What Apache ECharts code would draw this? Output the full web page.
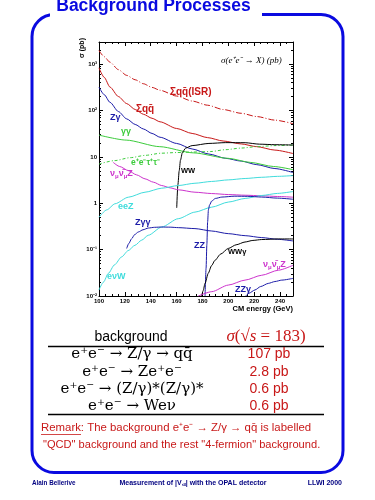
<!DOCTYPE html>
<html><head><meta charset="utf-8">
<script src="https://cdn.jsdelivr.net/npm/echarts@6/dist/echarts.min.js"></script>
<style>html,body{margin:0;padding:0;background:#fff;}#c{width:375px;height:500px;}</style>
</head><body><div id="c"></div>
<script>
// ---- data (CM energy in GeV, cross-section in pb) ----
const energyTicks = [100,120,140,160,180,200,220,240];
const sigmaTicks = [0.01,0.1,1,10,100,1000];
const sigmaTickLabels = ['10⁻²','10⁻¹','1','10','10²','10³'];
const sigmaMinorTicks = [0.02,0.03,0.04,0.05,0.06,0.07,0.08,0.09,0.2,0.3,0.4,0.5,0.6,0.7,0.8,0.9,2,3,4,5,6,7,8,9,20,30,40,50,60,70,80,90,200,300,400,500,600,700,800,900,2000,3000];
const energyMinorTicks = [105,110,115,125,130,135,145,150,155,165,170,175,185,190,195,205,210,215,225,230,235,245,250];

const qqISR = [[100,1970],[104,1450],[108.5,1100],[115,760],[121.4,572],[128,460],[134.3,378],[141,315],[147.2,273],[160,205],[172,160],[184,130],[196,105],[210,87],[222,74],[236,62],[250,52]];
const qqBar = [[100,830],[104,520],[108.5,320],[115,200],[121.4,141],[128,105],[134.3,83],[141,68],[147.2,57],[160,41],[172,32],[184,26],[196,22],[210,19],[222,16.6],[236,14],[250,11.8]];
const zGamma = [[100,320],[104,220],[108.5,150],[115,95],[121.4,66],[128,50],[134.3,40],[141,32],[147.2,26.5],[160,19.5],[172,14.8],[185,11.5],[198,9.3],[210,8.1],[222,6.8],[236,5.6],[250,4.6]];
const gammaGamma = [[100,29.5],[121,23],[147,16.6],[173,12.2],[200,9.3],[217,7.6],[235,6.2],[250,5.3]];
const eeTauTau = [[100,7],[112,8.3],[124,9.6],[136,10.8],[148,12],[160,12.4],[172,12.7],[186,13],[198,14.3],[210,15.5],[222,16.6],[236,17.5],[250,18]];
const ww = [[160.1,0.8],[161,2.5],[162,5],[163,8.5],[164.5,12.5],[167,15.5],[172,17.5],[185,19.5],[198,20.3],[213,20.2],[224,18.8],[236,18.3],[250,18]];
const nnZ = [[111,7.6],[116,6.2],[122.7,5.06],[129,4.1],[135.6,3.36],[142,2.85],[148.5,2.41],[155,2.15],[161.3,1.95],[174.2,1.73],[187,1.62],[200,1.54],[213,1.49],[225.8,1.45],[238,1.4],[250,1.35]];
const eeZ = [[100,0.5],[106,0.72],[112.4,0.975],[122.7,1.35],[135.6,1.73],[148.5,2.11],[161.3,2.41],[174.2,2.7],[187,2.95],[200,3.19],[213,3.42],[225.8,3.63],[238,3.8],[250,3.95]];
const eNuW = [[100,0.0135],[103.5,0.02],[107.2,0.0307],[112,0.047],[117.5,0.0697],[122.5,0.095],[127.8,0.124],[133,0.16],[138.1,0.204],[148.5,0.307],[161.3,0.465],[174.2,0.644],[187.2,0.824],[200,1.06],[213,1.27],[225.8,1.47],[238,1.63],[250,1.79]];
const zGammaGamma = [[121.4,0.106],[123,0.135],[125.3,0.173],[127.5,0.21],[130.4,0.24],[134,0.268],[138.1,0.292],[143,0.303],[148.5,0.307],[155,0.305],[161.3,0.298],[174.2,0.284],[187.2,0.252],[200,0.221],[213,0.2],[225.8,0.182],[238,0.167],[250,0.154]];
const zz = [[182,0.01],[182.8,0.04],[183.4,0.13],[184,0.4],[184.6,0.72],[185.5,0.92],[187.2,1.12],[190,1.27],[195,1.36],[205,1.42],[215,1.41],[225.8,1.36],[238,1.29],[250,1.22]];
const wwGamma = [[179.4,0.01],[180.5,0.013],[182,0.0187],[184.5,0.031],[187,0.045],[189.7,0.059],[194,0.08],[200,0.106],[206,0.127],[212.9,0.146],[219,0.158],[225.8,0.165],[238.7,0.17],[250,0.17]];
const nnZLow = [[176.8,0.01],[187.2,0.0124],[200,0.0172],[212.9,0.022],[225.8,0.028],[238.7,0.036],[250,0.046]];
const zzGamma = [[213.5,0.01],[216,0.0115],[220.6,0.0135],[225,0.016],[230.9,0.0187],[236,0.0205],[241.3,0.022],[250,0.024]];

const tableProcesses = ['e⁺e⁻ → Z/γ → qq̄','e⁺e⁻ → Ze⁺e⁻','e⁺e⁻ → (Z/γ)*(Z/γ)*','e⁺e⁻ → Weν'];
const tableValues = ['107 pb','2.8 pb','0.6 pb','0.6 pb'];

// ---- styles ----
const RED='#c81818', BLUE='#1c1ca8', GREEN='#3ccc3c', CYAN='#40dcdc', MAG='#cc33cc', BLK='#000';
const FRAME='#0a0ae0';
const tickFont = {fontSize:6, fontWeight:'bold', color:'#000', fontFamily:'Liberation Sans'};

function line(data, color, type){
  return {type:'line', data, symbol:'none', showSymbol:false, smooth:0.25, smoothMonotone:'x',
    lineStyle:{color, width:1, type: type||'solid'}, silent:true, animation:false, z:3};
}
function xAx(pos, minor){
  return {type:'value', min:100, max:250, position:pos, gridIndex:0,
    axisLine:{show:!minor, onZero:false, lineStyle:{color:'#000', width:1}},
    axisTick:{show:true, inside:true, length: minor?2:4, customValues: minor?energyMinorTicks:energyTicks, lineStyle:{color:'#000', width:1}},
    axisLabel:{show: (pos==='bottom' && !minor), customValues: energyTicks, margin:2, ...tickFont},
    splitLine:{show:false}};
}
function yAx(pos, minor){
  return {type:'log', logBase:10, min:0.01, max:3000, position:pos, gridIndex:0,
    axisLine:{show:!minor, onZero:false, lineStyle:{color:'#000', width:1}},
    axisTick:{show:true, inside:true, length: minor?2:4, customValues: minor?sigmaMinorTicks:sigmaTicks, lineStyle:{color:'#000', width:1}},
    axisLabel:{show:(pos==='left' && !minor), customValues: sigmaTicks, margin:2,
      formatter: v => { const i = sigmaTicks.findIndex(t => Math.abs(Math.log10(t)-Math.log10(v))<1e-6); return i>=0 ? sigmaTickLabels[i] : ''; },
      ...tickFont},
    splitLine:{show:false}};
}

const xAxes = [xAx('bottom',false), xAx('top',false), xAx('bottom',true), xAx('top',true)];
const yAxes = [yAx('left',false), yAx('right',false), yAx('left',true), yAx('right',true)];

function T(x, y, text, color, font, extra, rot){
  const el = {type:'text', x, y, silent:true, style:Object.assign({text, fill:color, font, align:'left', verticalAlign:'middle'}, extra||{})};
  if (rot) el.rotation = rot;
  return el;
}
const lf = 'bold 9px "Liberation Sans"';
const sub = {fontSize:6, fontWeight:'bold', fontFamily:'Liberation Sans', verticalAlign:'bottom', padding:[4,0,0,0]};

const graphics = [
  {type:'rect', shape:{x:32, y:14.5, width:311, height:458, r:22}, style:{fill:'none', stroke:FRAME, lineWidth:3}, silent:true},
  {type:'rect', shape:{x:50, y:9, width:212, height:12}, style:{fill:'#fff'}, silent:true},
  T(153.5, 6.5, 'Background Processes', FRAME, 'bold 17.5px "Liberation Sans"', {align:'center'}),
  // axis titles and plot annotations
  T(82.5, 48, 'σ (pb)', '#000', 'bold 7px "Liberation Sans"', {align:'center'}, Math.PI/2),
  T(293, 309, 'CM energy (GeV)', '#000', 'bold 7.5px "Liberation Sans"', {align:'right'}),
  T(221, 61, 'σ(e⁺e⁻ → X) (pb)', '#000', 'italic 9px "Liberation Serif"'),
  T(170, 92, 'Σqq̄(ISR)', RED, 'bold 10px "Liberation Sans"'),
  T(136, 109, 'Σqq̄', RED, 'bold 10px "Liberation Sans"'),
  T(110, 118, 'Zγ', BLUE, lf),
  T(121, 132, 'γγ', GREEN, lf),
  T(131, 163, 'e⁺e⁻τ⁺τ⁻', GREEN, 'bold 8.5px "Liberation Sans"'),
  T(181, 171, 'WW', BLK, 'bold 7.5px "Liberation Sans"'),
  T(110, 174, '', MAG, lf, {text:'ν{s|μ}ν̄{s|μ}Z', rich:{s:Object.assign({}, sub, {fill:MAG})}}),
  T(118, 207, 'eeZ', CYAN, lf),
  T(135, 223, 'Zγγ', BLUE, lf),
  T(194, 246, 'ZZ', BLUE, lf),
  T(228, 252, 'WWγ', BLK, 'bold 7.5px "Liberation Sans"'),
  T(263, 265, '', MAG, lf, {text:'ν{s|μ}ν̄{s|μ}Z', rich:{s:Object.assign({}, sub, {fill:MAG})}}),
  T(107, 277, 'eνW', CYAN, lf),
  T(235, 290, 'ZZγ', BLUE, lf),
  // table
  T(131, 337, 'background', '#000', '14px "Liberation Sans"', {align:'center'}),
  T(266, 337, '', RED, '17px "Liberation Serif"', {align:'center', text:'{i|σ}(√{o|s} = 183)', rich:{i:{fontStyle:'italic', fontSize:17, fontFamily:'Liberation Serif', fill:RED}, o:{fontStyle:'italic', fontSize:17, fontFamily:'Liberation Serif', fill:RED}}}),
  {type:'line', shape:{x1:48, y1:346.5, x2:324, y2:346.5}, style:{stroke:'#000', lineWidth:1.3}, silent:true},
  {type:'line', shape:{x1:48, y1:414.5, x2:324, y2:414.5}, style:{stroke:'#000', lineWidth:1.3}, silent:true},
];
const rowY = [354.5, 372, 389, 406];
tableProcesses.forEach((p,i)=>{
  graphics.push(T(132, rowY[i], p, '#000', '15px "DejaVu Serif"', {align:'center'}));
  graphics.push(T(269, rowY[i], tableValues[i], RED, '14px "Liberation Sans"', {align:'center'}));
});
graphics.push(
  T(41, 428, 'Remark: The background e⁺e⁻ → Z/γ → qq̄ is labelled', RED, '11.4px "Liberation Sans"'),
  {type:'line', shape:{x1:41, y1:434.5, x2:81, y2:434.5}, style:{stroke:RED, lineWidth:0.8}, silent:true},
  T(43, 445, '"QCD" background and the rest "4-fermion" background.', RED, '11.1px "Liberation Sans"'),
  T(32, 483, 'Alain Bellerive', '#000080', 'bold 6.3px "Liberation Sans"'),
  T(193, 483, 'Measurement of |V꜀ₛ| with the OPAL detector', '#000080', 'bold 7px "Liberation Sans"', {align:'center'}),
  T(342, 483, 'LLWI 2000', '#000080', 'bold 7px "Liberation Sans"', {align:'right'})
);

const chart = echarts.init(document.getElementById('c'), null, {renderer:'canvas'});
chart.setOption({
  animation:false,
  backgroundColor:'#fff',
  grid:{left:99, top:42, width:194, height:254, containLabel:false},
  xAxis: xAxes,
  yAxis: yAxes,
  series:[
    line(qqISR, RED, [6,2,1,2]),
    line(qqBar, RED),
    line(zGamma, BLUE),
    line(gammaGamma, GREEN),
    line(eeTauTau, GREEN, [3,2,1,2]),
    line(ww, BLK),
    line(nnZ, MAG),
    line(eeZ, CYAN),
    line(eNuW, CYAN),
    line(zGammaGamma, BLUE),
    line(zz, BLUE),
    line(wwGamma, BLK),
    line(nnZLow, MAG),
    line(zzGamma, BLUE)
  ],
  graphic:{elements:graphics}
});
</script></body></html>
